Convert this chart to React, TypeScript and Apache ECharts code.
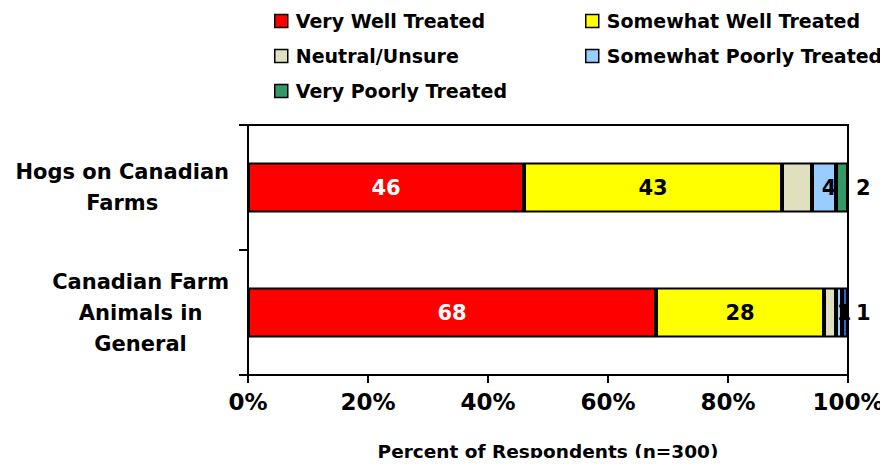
import React, { useEffect, useRef } from "react";
import * as echarts from "echarts";

const categories = ["Hogs on Canadian\nFarms", "Canadian Farm\nAnimals in\nGeneral"];
const seriesNames = [
  "Very Well Treated",
  "Somewhat Well Treated",
  "Neutral/Unsure",
  "Somewhat Poorly Treated",
  "Very Poorly Treated",
];
const veryWell = [46, 68];
const somewhatWell = [43, 28];
const neutral = [5, 2];
const somewhatPoorly = [4, 1];
const veryPoorly = [2, 1];
const xTicks = [0, 20, 40, 60, 80, 100];

const FONT = "DejaVu Sans";

export default function App() {
  const ref = useRef<HTMLDivElement>(null);
  useEffect(() => {
    if (!ref.current) return;
    const chart = echarts.init(ref.current, null, { renderer: "svg" });
    const labelBase = { fontFamily: FONT, fontWeight: "bold", fontSize: 21 };
    const barBase = {
      type: "bar",
      stack: "total",
      barWidth: 50,
    };
    const border = { borderColor: "#000", borderWidth: 2 };
    const legendBase = {
      orient: "vertical",
      top: 6,
      itemWidth: 13,
      itemHeight: 13,
      itemGap: 15,
      itemStyle: { borderColor: "#000", borderWidth: 1.5 },
      textStyle: {
        fontFamily: FONT,
        fontWeight: "bold",
        fontSize: 19,
        color: "#000",
        lineHeight: 20,
        padding: [0, 0, 0, 3],
      },
      icon: "rect",
    };
    chart.setOption({
      animation: false,
      textStyle: { fontFamily: FONT },
      grid: {
        left: 248,
        right: 40,
        top: 125,
        bottom: 91,
        show: true,
        borderColor: "#000",
        borderWidth: 2,
        backgroundColor: "transparent",
      },
      legend: [
        {
          ...legendBase,
          data: [seriesNames[0], seriesNames[2], seriesNames[4]],
          left: 269,
        },
        {
          ...legendBase,
          data: [seriesNames[1], seriesNames[3]],
          left: 580,
        },
      ],
      xAxis: {
        type: "value",
        min: xTicks[0],
        max: xTicks[xTicks.length - 1],
        interval: 20,
        splitLine: { show: false },
        axisLine: { show: true, lineStyle: { color: "#000", width: 2 } },
        axisTick: { show: true, length: 8, lineStyle: { color: "#000", width: 2 } },
        axisLabel: {
          fontFamily: FONT,
          fontWeight: "bold",
          fontSize: 23,
          color: "#000",
          margin: 15,
          formatter: "{value}%",
        },
        name: "Percent of Respondents (n=300)",
        nameLocation: "middle",
        nameGap: 67,
        nameTextStyle: { fontFamily: FONT, fontWeight: "bold", fontSize: 18.5, color: "#000" },
      },
      yAxis: {
        type: "category",
        data: categories,
        inverse: true,
        axisLine: { show: true, lineStyle: { color: "#000", width: 2 } },
        axisTick: { show: true, length: 9, lineStyle: { color: "#000", width: 2 } },
        axisLabel: {
          margin: 19,
          color: "#000",
          formatter: (v: string) =>
            v
              .split("\n")
              .map((l) => `{c|${l}}`)
              .join("\n"),
          rich: {
            c: {
              fontFamily: FONT,
              fontWeight: "bold",
              fontSize: 21,
              color: "#000",
              align: "center",
              lineHeight: 31,
            },
          },
        },
      },
      series: [
        {
          ...barBase,
          name: seriesNames[0],
          data: veryWell,
          itemStyle: { color: "#FF0000", ...border },
          label: { show: true, position: "inside", color: "#fff", ...labelBase },
        },
        {
          ...barBase,
          name: seriesNames[1],
          data: somewhatWell,
          itemStyle: { color: "#FFFF00", ...border },
          label: { show: true, position: "inside", color: "#000", ...labelBase },
        },
        {
          ...barBase,
          name: seriesNames[2],
          data: neutral,
          itemStyle: { color: "#E0E0BE", ...border },
          label: { show: false },
        },
        {
          ...barBase,
          name: seriesNames[3],
          data: somewhatPoorly,
          itemStyle: { color: "#99CCFF", ...border },
          label: { show: true, position: "inside", offset: [5, 0], color: "#000", ...labelBase },
        },
        {
          ...barBase,
          name: seriesNames[4],
          data: veryPoorly.map((v, i) =>
            i === 1 ? { value: v, itemStyle: { color: "#3366CC" } } : v
          ),
          itemStyle: { color: "#339966", ...border },
          label: { show: true, position: "right", distance: 8, color: "#000", ...labelBase },
        },
      ],
    });
    return () => chart.dispose();
  }, []);
  return <div ref={ref} style={{ width: 888, height: 466, margin: -8 }} />;
}
